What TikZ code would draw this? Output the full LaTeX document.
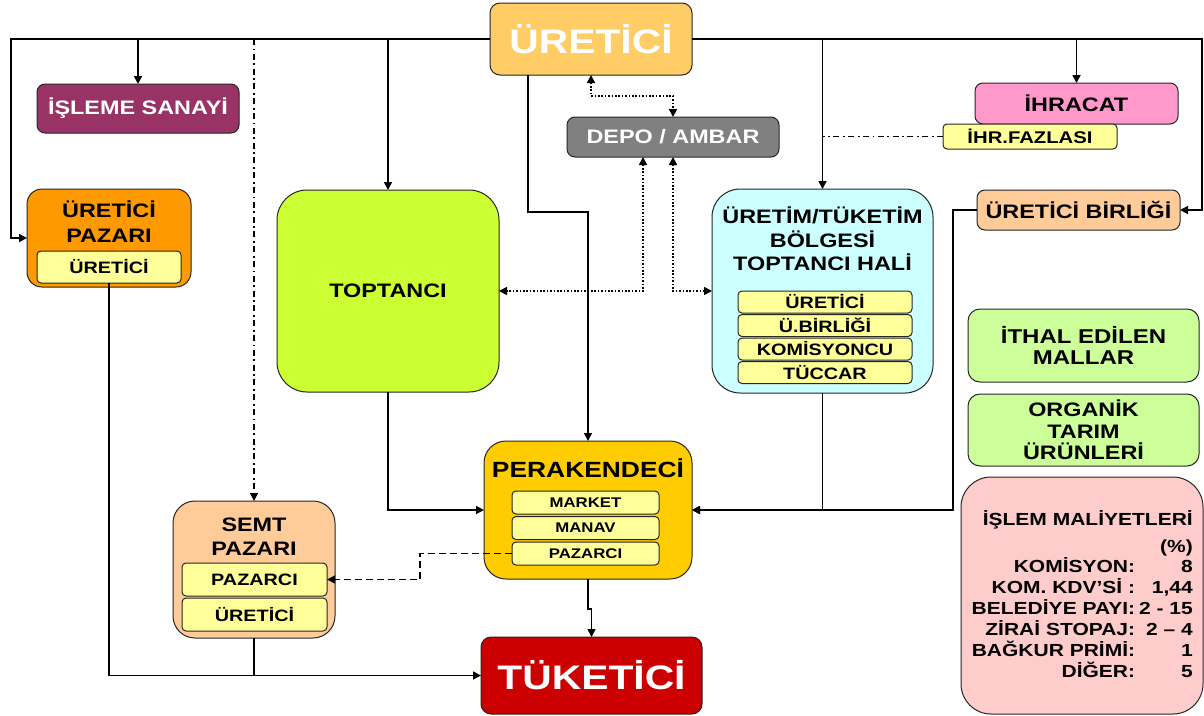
\documentclass[tikz,border=0pt]{standalone}
\usepackage{fontspec}
\setmainfont{Liberation Sans}[FakeStretch=1.2]
\usetikzlibrary{arrows.meta,positioning}

\definecolor{cUretici}{HTML}{FFCC66}
\definecolor{cIsleme}{HTML}{993366}
\definecolor{cUpazar}{HTML}{FF9900}
\definecolor{subyellow}{HTML}{FFFF99}
\definecolor{cToptanci}{HTML}{CCFF33}
\definecolor{cDepo}{HTML}{808080}
\definecolor{cIhracat}{HTML}{FF99CC}
\definecolor{cBirlik}{HTML}{FFCC99}
\definecolor{cHal}{HTML}{CCFFFF}
\definecolor{cPerakende}{HTML}{FFCC00}
\definecolor{cTuketici}{HTML}{CC0000}
\definecolor{cGreen}{HTML}{CCFF99}
\definecolor{cPink}{HTML}{FFCCCC}

\newcommand{\fsz}[2]{\fontsize{#1}{#2}\selectfont}

\tikzset{
	box/.style={draw=black!85, line width=1pt, rounded corners=8pt, inner sep=0pt, outer sep=0pt, align=center, font=\bfseries\fsz{19.5}{24}},
	sub/.style={box, fill=subyellow, rounded corners=4pt, font=\bfseries\fsz{16.5}{20}},
	head/.style={inner sep=0pt, align=center, font=\bfseries\fsz{19.5}{24}},
	flow/.style={line width=1.7pt},
	dotline/.style={line width=1.6pt, dash pattern=on 1.6pt off 1.8pt},
	ddline/.style={line width=1.5pt, dash pattern=on 6pt off 3.5pt on 1.8pt off 3.5pt},
	dashline/.style={line width=1.6pt, dash pattern=on 7pt off 4pt},
}

\begin{document}
\begin{tikzpicture}[x=1pt, y=-1pt, >={Triangle[length=8pt,width=8pt]}]
	\fill[white] (0,0) rectangle (1204,715);
	\useasboundingbox (0,0) rectangle (1204,715);

	% Top
	\node[box, fill=cUretici, text=white, minimum width=202pt, minimum height=72pt, rounded corners=10pt, font=\bfseries\fsz{34}{40}] (uretici) at (591,39) {ÜRETİCİ};

	% Left side
	\node[box, fill=cIsleme, text=white, minimum width=202pt, minimum height=49pt] (isleme) at (138,108.5) {İŞLEME SANAYİ};

	\node[box, fill=cUpazar, minimum width=164pt, minimum height=98pt, rounded corners=15pt] (upazar) at (109,238) {};
	\node[head, font=\bfseries\fsz{19.5}{25}] (upazarhead) at (109,222) {ÜRETİCİ\\PAZARI};
	\node[sub, minimum width=144pt, minimum height=32pt] (up1) at (109,267) {ÜRETİCİ};

	\node[box, fill=cToptanci, minimum width=222pt, minimum height=202pt, rounded corners=30pt] (toptanci) at (388,291) {TOPTANCI};

	%Middle
	\node[box, fill=cDepo, text=white, minimum width=212pt, minimum height=40pt] (depo) at (673,137) {DEPO / AMBAR};

	\node[box, fill=cHal, minimum width=221pt, minimum height=204pt, rounded corners=28pt] (uretim) at (822.5,291) {};
	\node[head, font=\bfseries\fsz{19.5}{23.5}] (uretimhead) at (822.5,239) {ÜRETİM/TÜKETİM\\BÖLGESİ\\TOPTANCI HALİ};
	\node[sub, minimum width=174pt, minimum height=22pt] (uh1) at (825,302) {ÜRETİCİ};
	\node[sub, minimum width=174pt, minimum height=22pt, below=1.5pt of uh1] (uh2) {Ü.BİRLİĞİ};
	\node[sub, minimum width=174pt, minimum height=22pt, below=1.5pt of uh2] (uh3) {KOMİSYONCU};
	\node[sub, minimum width=174pt, minimum height=22pt, below=1.5pt of uh3] (uh4) {TÜCCAR};

	%Right side
	\node[box, fill=cIhracat, minimum width=203pt, minimum height=41pt] (ihracat) at (1076.5,103.5) {İHRACAT};
	\node[sub, minimum width=174pt, minimum height=25pt, font=\bfseries\fsz{16.9}{20}] (fazla) at (1030,136.5) {İHR.FAZLASI};
	\node[box, fill=cBirlik, minimum width=203pt, minimum height=40pt] (birlik) at (1078.5,210) {ÜRETİCİ BİRLİĞİ};

	\node[box, fill=cGreen, minimum width=231pt, minimum height=73pt, rounded corners=12pt, font=\bfseries\fsz{20}{21}] (ithal) at (1083.5,345.5) {İTHAL EDİLEN\\MALLAR};
	\node[box, fill=cGreen, minimum width=231pt, minimum height=72pt, rounded corners=12pt, font=\bfseries\fsz{19.5}{21.5}] (organik) at (1083.5,430) {ORGANİK\\TARIM\\ÜRÜNLERİ};

	\node[box, fill=cPink, minimum width=242pt, minimum height=237pt, rounded corners=30pt] (islem) at (1082,595.5) {};
	\node[inner sep=0pt, anchor=east, font=\bfseries\fsz{17.5}{19.2}] (islemtxt) at (1193,597) {%
		\begin{tabular}{@{}r@{\hspace{4pt}}r@{}}
			\multicolumn{2}{@{}r@{}}{İŞLEM MALİYETLERİ}\\[7pt]
			\multicolumn{2}{@{}r@{}}{(\%)}\\
			KOMİSYON: & 8\\
			KOM. KDV’Sİ : & 1,44\\
			BELEDİYE PAYI: & 2 - 15\\
			ZİRAİ STOPAJ: & 2 – 4\\
			BAĞKUR PRİMİ: & 1\\
			DİĞER: & 5
		\end{tabular}};

	% Bottom
	\node[box, fill=cPerakende, minimum width=208pt, minimum height=138pt, rounded corners=22pt] (perakende) at (588,510) {};
	\node[head, anchor=base, font=\bfseries\fsz{22}{26}] (perakendehead) at (588,477) {PERAKENDECİ};
	\node[sub, minimum width=147pt, minimum height=23pt, font=\bfseries\fsz{14}{17}] (pk1) at (585.5,502.5) {MARKET};
	\node[sub, minimum width=147pt, minimum height=23pt, font=\bfseries\fsz{14}{17}, below=2.5pt of pk1] (pk2) {MANAV};
	\node[sub, minimum width=147pt, minimum height=23pt, font=\bfseries\fsz{14}{17}, below=2.5pt of pk2] (pk3) {PAZARCI};

	\node[box, fill=cBirlik, minimum width=162pt, minimum height=137pt, rounded corners=22pt] (semt) at (254,569.5) {};
	\node[head] (semthead) at (254,537) {SEMT\\PAZARI};
	\node[sub, minimum width=145pt, minimum height=33pt] (sp1) at (254.5,579.5) {PAZARCI};
	\node[sub, minimum width=145pt, minimum height=33pt, below=2pt of sp1] (sp2) {ÜRETİCİ};

	\node[box, fill=cTuketici, text=white, minimum width=221pt, minimum height=77pt, rounded corners=10pt, font=\bfseries\fsz{34}{40}] (tuketici) at (591.5,675.5) {TÜKETİCİ};

	% Connectors
	%Left bus
	\coordinate (lbus) at (11,39);
	\draw[flow, ->] (uretici.west) -- (lbus) |- (upazar.west);
	\draw[flow, ->] (isleme.north |- uretici.west) -- (isleme.north);
	\draw[flow, ->] (toptanci.north |- uretici.west) -- (toptanci.north);
	\draw[ddline, ->] (semt.north |- uretici.west) -- (semt.north);
	%Right bus
	\coordinate (rbus) at (1202,39);
	\draw[flow, ->] (uretici.east) -- (rbus) |- (birlik.east);
	\draw[flow, ->] (ihracat.north |- uretici.east) -- (ihracat.north);
	\draw[flow, ->] (uretim.north |- uretici.east) -- (uretim.north);
	\draw[ddline] (fazla.west) -- (fazla.west -| uretim.north);

	%Depo
	\draw[dotline, <->] (uretici.south) -- ++(0,21) -| (depo.north);
	\draw[dotline, <->] ([xshift=-30pt]depo.south) |- (toptanci.east);
	\draw[dotline, <->] (depo.south) |- (uretim.west);

	%To perakende
	\draw[flow, ->] ([xshift=-63pt]uretici.south) -- ++(0,137) -| (perakende.north);
	\draw[flow, ->] (toptanci.south) |- (perakende.west);
	\draw[flow, ->] (uretim.south) |- (perakende.east);
	\draw[flow, ->] (birlik.west) -- ++(-24,0) |- (perakende.east);
	\draw[dashline, ->] (pk3.west) -- ++(-92,0) |- (sp1.east);

	%To tuketici
	\draw[flow, ->] (perakende.south) -- ++(0,30) -| (tuketici.north);
	\draw[flow, ->] (up1.south) |- (tuketici.west);
	\draw[flow] (semt.south) -- (semt.south |- tuketici.west);
\end{tikzpicture}
\end{document}
